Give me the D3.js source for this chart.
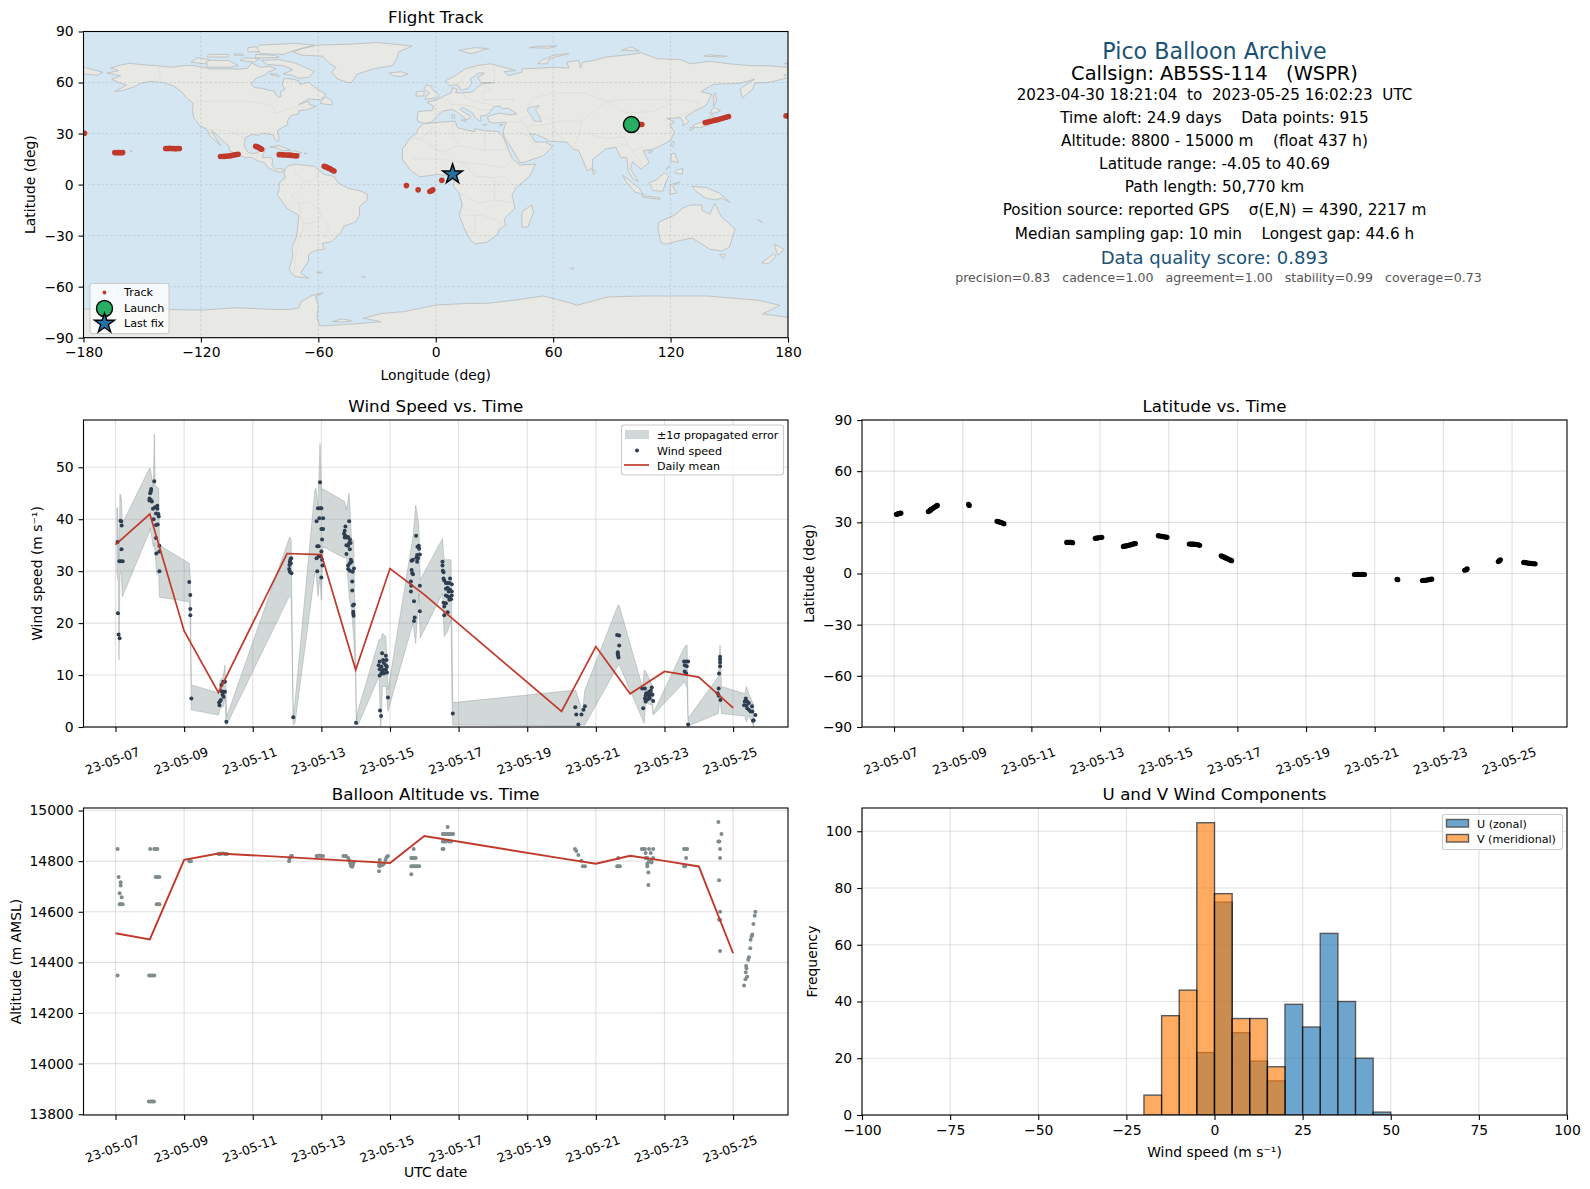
<!DOCTYPE html>
<html>
<head>
<meta charset="utf-8">
<script src="https://cdn.jsdelivr.net/npm/d3@7"></script>
<style>
  body { margin: 0; background: #fff; }
  svg { display: block; font-family: "DejaVu Sans", sans-serif; }
</style>
</head>
<body>
<svg id="chart" width="1590" height="1189"></svg>
<script>
// ---- data ----
// times are day-of-May (UTC), 7.5 = 23-05-07 12:00
const dateTicks = [7, 9, 11, 13, 15, 17, 19, 21, 23, 25];

const windTime = [
  7.06, 7.07, 7.09, 7.12, 7.11, 7.145, 7.165, 7.18, 7.175, 7.155, 7.21,
  8.13, 8.04, 8.03, 8.01, 7.99, 8.03, 8.06, 7.99, 8.09, 8.15, 8.22, 8.22, 8.18, 8.25, 8.26, 8.11, 8.18, 8.23, 8.18, 8.28, 8.19, 8.28, 8.28,
  9.15, 9.18, 9.18, 9.18, 9.21,
  10.03, 10.02, 10.05, 10.07, 10.09, 10.14, 10.19, 10.12, 10.15, 10.09, 10.14, 10.19, 10.23,
  12.1, 12.12, 12.08, 12.07, 12.06, 12.08, 12.13, 12.11, 12.18,
  12.96, 12.9, 12.96, 13.0, 12.86, 12.94, 13.05, 13.0, 13.05, 13.02, 12.88, 12.92, 13.0, 12.86, 12.92, 12.97, 13.02, 13.03, 12.88, 13.0,
  13.81, 13.7, 13.68, 13.66, 13.7, 13.73, 13.78, 13.83, 13.68, 13.81, 13.73, 13.85, 13.78, 13.83, 13.73, 13.86, 13.88, 13.83, 13.78, 13.78, 13.83, 13.91, 13.95, 13.9, 13.9, 13.95, 13.92, 13.93, 13.93, 13.94, 14.01,
  14.77, 14.88, 14.8, 14.7, 14.9, 14.82, 14.67, 14.75, 14.88, 14.91, 14.7, 14.82, 14.78, 14.88, 14.91, 14.75, 14.7, 14.82, 14.94, 14.71, 14.74,
  15.76, 15.84, 15.8, 15.85, 15.79, 15.87, 15.77, 15.82, 15.67, 15.63, 15.79, 15.63, 15.65, 15.67, 15.61, 15.62, 15.61, 15.87, 15.7, 15.87, 15.72, 15.7,
  16.53, 16.53, 16.54, 16.56, 16.56, 16.58, 16.75, 16.63, 16.68, 16.73, 16.8, 16.63, 16.68, 16.75, 16.71, 16.8, 16.63, 16.68, 16.73, 16.8, 16.78, 16.73, 16.56, 16.63, 16.58, 16.58, 16.68, 16.83,
  20.4, 20.43, 20.49, 20.58, 20.64, 20.68,
  21.62, 21.68, 21.68, 21.64, 21.64, 21.65, 21.66,
  22.35, 22.43, 22.63, 22.55, 22.6, 22.47, 22.53, 22.62, 22.45, 22.55, 22.65, 22.43, 22.5, 22.57, 22.45, 22.67, 22.38,
  23.57, 23.64, 23.69, 23.59, 23.65, 23.59, 23.63, 23.69,
  24.62, 24.62, 24.62, 24.62, 24.59, 24.58, 24.55, 24.58, 24.63,
  25.37, 25.34, 25.41, 25.32, 25.39, 25.46, 25.55, 25.41, 25.46, 25.51, 25.56, 25.65, 25.6, 25.58
];
const windSpeed = [
  35.6, 21.9, 17.8, 17.1, 31.9, 39.7, 39.6, 38.8, 34.2, 31.9, 31.9,
  47.3, 45.8, 45.4, 45, 44, 43.7, 43.4, 43.6, 42, 42.3, 42.6, 42, 41.1, 41, 40.5, 40, 38.9, 39, 36.4, 34.9, 33.4, 33.8, 30,
  27.9, 25.4, 22.7, 21.5, 5.5,
  4.2, 4.7, 5, 5.2, 6.9, 6.8, 6.8, 6.2, 5.8, 8.1, 8.7, 8.7, 1,
  32.3, 32.5, 31.8, 31.2, 30.4, 29.9, 29.6, 31.5, 1.9,
  47.1, 42.1, 42.1, 42.1, 39.6, 40.2, 40.2, 38.1, 38.1, 36.1, 34.8, 34.8, 33.8, 32.5, 32.8, 32.9, 32.2, 31.1, 30, 28.8,
  39.6, 38.6, 37.8, 37.2, 36.8, 36.5, 36.6, 36.1, 36.5, 35.4, 35, 35.4, 34.9, 34.2, 33.3, 32.2, 31.8, 31.5, 31.1, 30.4, 30.1, 29.9, 30.5, 28, 26.3, 23.6, 23.4, 22.2, 21.8, 21.4, 0.8,
  14.2, 13.7, 12.9, 12.6, 12.9, 12.3, 11.9, 11.6, 11.9, 11.6, 11.1, 11, 10.7, 11, 10.5, 10.3, 9.9, 10.3, 5.7, 3.2, 2.1,
  36.8, 34.9, 34.7, 34.3, 33.1, 33.2, 32.6, 32.5, 32.2, 32, 31.8, 30.2, 29.6, 29.4, 28, 27.2, 26.1, 27.2, 24.2, 22.3, 21.1, 20.4,
  31.8, 31.1, 30.1, 29.8, 28.6, 28.2, 28.6, 27.7, 27.7, 27.7, 27.5, 26.6, 26.8, 26.4, 26.1, 26.1, 25.3, 25.1, 25, 25.3, 24.6, 24.5, 23.9, 23.8, 23.2, 21.5, 22.1, 2.6,
  3.8, 2.4, 0.5, 2.4, 3.3, 4,
  17.7, 17.6, 15.7, 14.4, 14, 13.7, 13.4,
  7.4, 7.4, 7.6, 6.8, 7, 6.5, 6.3, 6.3, 6, 5.8, 6.2, 5.5, 5.3, 5.5, 4.9, 5, 3.6,
  12.6, 12.6, 12.6, 11.9, 11.7, 10.7, 10.3, 0.5,
  13.5, 13, 12.4, 11.7, 10.3, 7.4, 6.5, 6, 5.2,
  5.5, 4.9, 4.9, 4.2, 4.2, 4.6, 4, 3.6, 3.3, 3, 3, 2.3, 1.3, 1.2
];

const bandTime = [
  7.04, 7.06, 7.08, 7.10, 7.13, 7.17, 7.20, 7.99, 8.01, 8.10, 8.13, 8.16, 8.20, 8.26, 8.28, 9.15, 9.18, 9.21,
  10.0, 10.05, 10.14, 10.19, 10.22, 10.24, 12.06, 12.08, 12.12, 12.18, 12.23, 12.81, 12.84, 12.9, 12.96, 13.0, 13.05,
  13.68, 13.73, 13.81, 13.88, 13.94, 14.0, 14.02, 14.07, 14.68, 14.73, 14.78, 14.88, 14.94, 15.67, 15.75, 15.84, 15.88,
  16.53, 16.58, 16.68, 16.78, 16.81, 16.83, 20.41, 20.61, 20.68, 21.65, 21.68, 22.37, 22.41, 22.45, 22.64, 22.67,
  23.59, 23.66, 23.69, 24.57, 24.62, 24.66, 25.34, 25.39, 25.46, 25.6
];
const bandLow = [
  29.6, 28.9, 28, 12.9, 29.6, 29.6, 25.1, 37.6, 38.3, 34.7, 35.4, 33, 29.6, 29.3, 25, 24.1, 19.3, 3.3,
  2.3, 3.5, 3.9, 5.8, 0.4, 0.4, 25.1, 25.1, 25, 0.4, 0.7, 29.6, 30, 25.2, 28.9, 24.5, 34.7,
  32.5, 32.8, 25, 22.5, 17.4, 9.7, 0.4, 0.4, 9.7, 0, 7.8, 7.8, 3, 20, 16.1, 25.7, 17.1,
  25.7, 17.4, 18.4, 20.6, 3.3, 0.4, 0.2, 0.4, 0.4, 11.9, 12, 1.3, 0.7, 4.6, 4.2, 2.3,
  8.7, 7.4, 0.2, 2.6, 5.8, 2.6, 2.1, 1, 2.3, 0
];
const bandHigh = [
  42.2, 42.2, 36, 31.5, 44.9, 44, 39.2, 49.8, 49.8, 46.3, 56.4, 46.3, 46.3, 46, 35, 31.5, 28.9, 8.1,
  6.6, 9, 9.7, 11.9, 7.1, 2, 36.3, 36.6, 36, 2, 4.7, 45.6, 46, 42.7, 54.6, 45.8, 45.8,
  43.4, 41.8, 45, 36, 36, 11.6, 1.3, 3.3, 16.8, 16.8, 18, 17.4, 7.1, 36.6, 42.7, 38.9, 28.3,
  36.3, 32.2, 32.2, 32.2, 16.1, 4.7, 7.1, 3, 7.1, 23.5, 23.4, 7.4, 11, 10.7, 8.1, 2.6,
  15.5, 15.8, 1.7, 9.7, 15.8, 7.8, 6.4, 7.8, 6.4, 4.2
];

const meanDay = [7, 8, 9, 10, 12, 13, 14, 15, 16, 20, 21, 22, 23, 24, 25];
const meanWind = [35.1, 41, 18.5, 6.6, 33.4, 33.2, 11, 30.5, 25.5, 3, 15.5, 6.4, 10.7, 9.6, 3.7];
const meanAlt = [14515, 14491, 14805, 14830, 14816, 14808, 14800, 14793, 14899, 14811, 14790, 14821, 14801, 14779, 14436];

const altTime = [
  7.06, 7.09, 7.15, 7.15, 7.12, 7.18, 7.12, 7.15, 7.18, 7.21, 7.06,
  8.01, 8.13, 8.17, 8.22, 8.17, 8.2, 8.24, 8.28, 8.2, 8.24, 8.28, 7.98, 8.03, 8.08, 8.13, 7.97, 8.02, 8.07, 8.12,
  9.15, 9.2, 10.0, 10.05, 10.1, 10.15, 10.2, 10.25,
  12.12, 12.1, 12.06, 12.07, 12.14, 12.86, 12.9, 12.95, 13.0, 13.05,
  13.64, 13.68, 13.72, 13.78, 13.82, 13.84, 13.86, 13.88, 13.9, 13.92, 13.94, 13.86, 13.9,
  14.7, 14.68, 14.68, 14.7, 14.75, 14.78, 14.82, 14.87, 14.9, 14.94,
  15.69, 15.62, 15.66, 15.7, 15.75, 15.62, 15.66, 15.7, 15.75, 15.8, 15.85, 15.62,
  16.68, 16.54, 16.58, 16.63, 16.68, 16.73, 16.78, 16.84, 16.54, 16.58, 16.63, 16.72, 16.78, 16.53, 16.56,
  20.39, 20.43, 20.49, 20.58, 20.62, 20.68,
  21.65, 21.62, 21.66, 21.7,
  22.34, 22.38, 22.43, 22.55, 22.67, 22.45, 22.6, 22.45, 22.5, 22.55, 22.62, 22.67, 22.5, 22.62, 22.5, 22.53, 22.53,
  23.57, 23.61, 23.66, 23.63, 23.57, 23.6,
  24.57, 24.66, 24.57, 24.6, 24.62, 24.62, 24.59, 24.62, 24.59, 24.62, 24.62,
  25.32, 25.36, 25.41, 25.37, 25.39, 25.38, 25.44, 25.46, 25.5, 25.51, 25.54, 25.56, 25.59, 25.63, 25.65
];
const altitude = [
  14848, 14737, 14717, 14704, 14673, 14657, 14630, 14630, 14630, 14630, 14348,
  14848, 14848, 14848, 14848, 14737, 14737, 14737, 14737, 14630, 14630, 14630, 14348, 14348, 14348, 14348, 13850, 13850, 13850, 13850,
  14800, 14800, 14828, 14828, 14830, 14830, 14828, 14828,
  14820, 14815, 14800, 14810, 14820, 14820, 14820, 14822, 14820, 14820,
  14820, 14820, 14820, 14812, 14803, 14792, 14782, 14780, 14790, 14785, 14795, 14790, 14778,
  14805, 14785, 14760, 14780, 14785, 14785, 14790, 14805, 14815, 14820,
  14848, 14812, 14812, 14812, 14812, 14780, 14780, 14780, 14780, 14780, 14780, 14748,
  14935, 14907, 14907, 14907, 14907, 14907, 14907, 14907, 14878, 14878, 14878, 14878, 14878, 14848, 14848,
  14848, 14840, 14824, 14802, 14780, 14780,
  14812, 14780, 14780, 14780,
  14848, 14848, 14848, 14848, 14848, 14832, 14832, 14812, 14812, 14800, 14800, 14812, 14790, 14795, 14780, 14755, 14706,
  14848, 14848, 14848, 14812, 14780, 14780,
  14955, 14907, 14878, 14878, 14848, 14812, 14725, 14600, 14568, 14568, 14445,
  14309, 14333, 14343, 14361, 14377, 14386, 14410, 14420, 14456, 14489, 14503, 14510, 14552, 14584, 14600
];

const latTime = [
  7.07, 7.1, 7.12, 7.15, 7.18, 7.2,
  8.0, 8.02, 8.05, 8.07, 8.1, 8.13, 8.16, 8.19, 8.22, 8.24, 8.26,
  9.17, 9.19,
  10.0, 10.04, 10.08, 10.12, 10.16, 10.2,
  12.03, 12.07, 12.11, 12.15, 12.2,
  12.86, 12.9, 12.94, 13.0, 13.05,
  13.68, 13.72, 13.76, 13.8, 13.85, 13.9, 13.95, 14.0, 14.03,
  14.7, 14.74, 14.8, 14.86, 14.92, 14.95,
  15.6, 15.64, 15.68, 15.72, 15.76, 15.8, 15.85, 15.9,
  16.53, 16.56, 16.6, 16.64, 16.68, 16.72, 16.76, 16.8, 16.83,
  20.41, 20.45, 20.5, 20.55, 20.6, 20.65, 20.7,
  21.65, 21.67,
  22.39, 22.43, 22.48, 22.52, 22.57, 22.61, 22.66,
  23.62, 23.66, 23.69,
  24.6, 24.63, 24.66,
  25.34, 25.38, 25.42, 25.46, 25.5, 25.54, 25.58, 25.62, 25.67
];
const latitude = [
  34.7, 34.9, 35, 35.2, 35.3, 35.4,
  36.3, 36.6, 37, 37.4, 37.8, 38.2, 38.6, 39, 39.4, 39.7, 39.9,
  40.6, 39.9,
  30.6, 30.4, 30.2, 29.9, 29.6, 29.2,
  18.2, 18.3, 18.2, 18.2, 18.1,
  20.6, 20.7, 20.9, 21.1, 21.2,
  15.9, 16, 16.2, 16.4, 16.6, 16.9, 17.2, 17.5, 17.6,
  22.2, 22, 21.8, 21.6, 21.3, 21.2,
  17.3, 17.3, 17.2, 17.2, 17.1, 17.1, 16.9, 16.5,
  10.4, 10, 9.7, 9.3, 9, 8.6, 8.2, 7.8, 7.5,
  -0.6, -0.6, -0.5, -0.6, -0.6, -0.5, -0.6,
  -3.4, -3.6,
  -4.1, -4.05, -4, -3.8, -3.6, -3.4, -3.3,
  1.9, 2.2, 2.7,
  7, 7.5, 8,
  6.5, 6.4, 6.3, 6.1, 6, 5.9, 5.8, 5.8, 5.7
];

const trackLon = [
  -180, -179.5,
  -164, -163.2, -162.4, -161.6, -160.8, -160,
  -138, -137, -136, -135, -134, -133, -132, -131,
  -110, -109, -108, -107, -106, -105, -104, -103, -102, -101,
  -92, -91.2, -90.4, -89.6, -89,
  -80, -79, -78, -77, -76, -75, -74, -73, -72, -71,
  -57, -56.2, -55.4, -54.6, -53.8, -53, -52,
  -15, -9, -3, -2.2, -1.5, 3.1,
  105.3, 104.5,
  137.7, 139, 140.3, 141.6, 143, 144.3, 145.6, 147, 148.3, 149.6,
  179, 180
];
const trackLat = [
  30.2, 30.2,
  18.8, 18.7, 18.8, 18.8, 18.7, 18.8,
  21.2, 21.2, 21.3, 21.2, 21.2, 21.1, 21.2, 21.2,
  16.5, 16.5, 16.6, 16.7, 16.8, 17, 17.2, 17.4, 17.6, 17.8,
  22.5, 22.2, 21.8, 21.2, 20.8,
  17.6, 17.6, 17.5, 17.4, 17.4, 17.3, 17.2, 17.1, 17, 16.9,
  10.8, 10.4, 10, 9.6, 9.1, 8.6, 8,
  -0.6, -3.1, -4.1, -3.6, -3.1, 2.5,
  35.3, 35.3,
  36.5, 36.8, 37.1, 37.5, 37.9, 38.3, 38.7, 39.1, 39.6, 40,
  40.4, 40.4
];
const launchPoint = [100, 35.3];
const lastFixPoint = [8.6, 6.1];

const histEdges = d3.range(-100, 105, 5);
const histU = { "-5": 22, "0": 75, "5": 29, "10": 19, "15": 12, "20": 39, "25": 31, "30": 64, "35": 40, "40": 20, "45": 1 };
const histV = { "-20": 7, "-15": 35, "-10": 44, "-5": 103, "0": 78, "5": 34, "10": 34, "15": 17 };

// land outlines, [lon, lat]
const land = [
  // North America
  [[-168,65.5],[-164,66.5],[-162,67],[-166,68.5],[-161,70.3],[-156.5,71.3],[-150,70.5],[-141,69.7],[-135,69],[-128,70],[-124,70],[-115,68],[-108,68],[-100,68],[-96,68.5],[-94,71.5],[-90,69],[-85,69.5],[-81.5,68],[-86,66],[-87,64.5],[-92,62.5],[-94.5,59],[-92.5,57],[-88,56.5],[-85,55.3],[-82.3,55],[-82,52.9],[-80,51.3],[-79,52],[-79.5,54.5],[-77,56],[-78.5,58.5],[-77.5,62.5],[-73,62],[-70,61],[-69.5,58.8],[-65,60.2],[-61,56.5],[-56,53],[-59,50],[-65,50.3],[-70,47],[-65,49],[-64.5,47],[-61,46],[-66,44],[-70,43.5],[-70,41.7],[-74,40.5],[-76,37],[-75.5,35.2],[-78,33.8],[-81,31.8],[-80,27],[-80.5,25.2],[-82,26.5],[-83,29],[-85,29.7],[-89,30.2],[-90,29],[-94,29.5],[-97.3,27.5],[-97.8,22.5],[-96,19],[-94,18.2],[-91,18.7],[-90.5,21],[-87,21.5],[-88,18],[-88.8,15.9],[-84,15.8],[-83.3,14.9],[-83.7,11],[-82,9],[-79.5,9.5],[-77.3,8.6],[-78,7.5],[-80,7.3],[-83,8.3],[-85.7,10],[-87.5,13],[-91,14],[-94,16],[-97,15.8],[-101,17.5],[-105.5,20],[-105.5,22.5],[-109,26],[-112.5,30],[-114.7,31.7],[-112.5,27.5],[-110,23],[-112,25],[-115,28],[-117,32.5],[-120.5,34.5],[-123.5,39],[-124.3,43],[-124,48],[-127,50.5],[-130,54.5],[-134,58],[-139.5,60],[-146,60.7],[-151,59.5],[-154,57.5],[-160,55.3],[-164,54.7],[-158,58.5],[-162,60],[-165.5,62],[-161,64]],
  // Arctic Canada
  [[-80,73.5],[-72,71.5],[-68,69.5],[-62,66.5],[-65,63],[-70,62.5],[-74,64.5],[-78,65],[-73,67.5],[-78,70],[-86,70.5],[-89,73]],
  [[-117,69],[-105,69],[-101,70],[-106,73],[-117,73]],
  [[-125,72],[-118,71],[-116,73.5],[-122,74.5]],
  [[-90,77],[-78,76.5],[-72,79],[-62,82],[-72,83],[-90,82],[-92,80]],
  [[-92,74.5],[-80,74.7],[-82,76],[-92,76.5]],
  [[-117,75],[-106,75],[-106,76.5],[-116,76.5]],
  [[-100,73],[-93,72],[-90,74],[-98,74.5]],
  [[-96,78],[-90,78.2],[-92,81],[-96,80.5]],
  [[-103,76],[-98,76],[-99,77],[-103,76.8]],
  [[-85,65],[-80,63.5],[-81,65]],
  [[-59,47.7],[-53,46.8],[-53,49],[-56,51.5],[-58,50]],
  // Caribbean, Hawaii
  [[-85,22],[-80,23],[-74,20.2],[-78,19.9],[-82,22]],
  [[-74.5,18.5],[-72,19.9],[-68.5,18.6],[-71,18]],
  [[-78.3,18.3],[-76.3,18.2],[-77,17.8]],
  [[-67.2,18.4],[-65.7,18.4],[-66.5,18]],
  [[-155.8,19.2],[-155,19.6],[-155.8,20.2]],
  // Greenland, Iceland
  [[-73,78],[-68,76],[-58,75.5],[-54,71],[-51,69],[-53,66],[-50,62],[-45,60],[-43,60],[-40,65],[-32,68],[-22,70],[-20,74],[-19,78],[-12,81.5],[-30,83.5],[-45,82.5],[-60,82],[-68,80]],
  [[-24,65.5],[-18,66.3],[-14,65],[-18,63.5],[-22,64]],
  // South America
  [[-77.3,8.6],[-75.5,11],[-72,12],[-68,11.5],[-62,10.7],[-57,6],[-52,4.8],[-50,1],[-44,-2.5],[-39,-3.5],[-35,-5.5],[-35,-9],[-39,-13],[-39,-18],[-41,-22],[-47,-24.5],[-48.5,-28],[-53,-33.5],[-58,-34.5],[-57,-38],[-62,-39],[-65,-41],[-65,-45],[-68,-50],[-69,-52],[-65,-55],[-72,-54],[-75,-50],[-73,-42],[-73.5,-37],[-71,-30],[-70,-18],[-76,-14],[-81,-6],[-80,-2.5],[-80,1],[-77,4],[-77.5,7]],
  [[-61,-51.5],[-58,-51.5],[-59,-52.3]],
  [[-37.8,-54],[-36,-54.3],[-36.5,-54.8]],
  // Africa
  [[-6,35.8],[3,36.8],[10,37.3],[11,33.5],[15,32.3],[20,31],[20,32.8],[25,31.7],[32,31.2],[34.5,28],[37,21],[39,15.5],[43,11.5],[51,12],[48,5],[41,-2],[39,-6],[40.5,-14],[35,-20],[35.5,-24],[32.5,-26.5],[31,-30],[26,-34],[20,-34.8],[18,-33],[15,-27],[12,-18],[13.5,-12],[12,-5],[9,-1],[9.5,3.5],[5,5.5],[1,6],[-4,5.2],[-8,4.5],[-13,8.5],[-17,14.7],[-17,21],[-13,27.5],[-10,30],[-9,33]],
  [[49,-12],[50,-16],[47,-25],[44,-25],[44,-16]],
  // Eurasia
  [[-9,37],[-9.5,39],[-9,43],[-2,43.5],[-1,46],[-4.5,48.5],[1,50],[4,52],[8,54],[8.5,57],[11,56],[10,54],[14,54],[19,54.5],[21,57],[24,59.3],[30,60],[23,60],[21.5,63],[25,65.5],[22,65.7],[17.5,62],[18.5,60],[16.5,56.5],[13,55.5],[11,59],[7,58],[5,61],[10,64],[15,68],[21,70],[28,71],[33,69.5],[41,67],[35,66.5],[37,64],[44,66],[44,68],[54,68.5],[60,69],[68,68.5],[67,72],[73,73],[74,68.5],[75,72],[81,73],[87,75],[100,76.5],[105,77.5],[113,74],[125,73.5],[130,71],[140,72.5],[150,71],[160,70],[170,69.8],[180,69],[180,65],[178,64.5],[179,62.5],[170,60],[163,59.7],[162,56],[156.7,51],[155.5,56],[158,58.3],[163,62],[155,59.5],[142,59],[135.5,54.7],[141,53],[138,46.5],[132,43],[127.5,39.7],[129.3,37],[126.5,34.5],[126.3,37],[125,39.5],[121.5,39],[118,39],[122,37],[119.5,35],[122,31],[120,26],[114,22.3],[110,20.5],[106,20],[109,13],[105,9],[100.5,13.5],[99.5,9],[103.5,2],[101,3],[98.3,8],[97.5,16],[94.5,16],[92,22],[87,21],[80.3,15],[80,10],[77.5,8],[73,20],[70,21],[67,25],[57,25.5],[56.5,27],[51,29.5],[48,30],[51,25],[56,25],[59.7,22.5],[55,17],[45,13],[43,13],[39,21],[35,28],[34.5,31.5],[36,36.7],[30,36.2],[27,37],[26.5,40],[29,41],[33,42],[38,41],[41.5,41.5],[37,45],[34,44.5],[33,46],[30,46],[28,43],[26,40.7],[23,40.5],[23,37],[20,39.5],[19,42],[13.5,45.5],[12.5,44],[18,40],[16,38],[11,42.5],[8.5,44.2],[3.5,43.2],[0,39.5],[-2,36.8],[-5.5,36]],
  [[-180,65],[-180,69],[-175,67.5],[-170,66],[-173,64.3]],
  // Europe and Arctic islands
  [[-5.5,50],[1.5,51.3],[1.5,53],[-2,56],[-2,57.7],[-5,58.6],[-6,56],[-3,54],[-5,52]],
  [[-10,52],[-6,52.2],[-6,55],[-10,54.5]],
  [[12,79],[20,80.5],[27,80],[18,77]],
  [[52,71],[57,71],[58,74],[68,77],[60,76],[54,73]],
  [[95,79],[104,78.5],[100,81]],
  [[48,80.5],[58,80.2],[62,81.5],[52,81.3]],
  [[137,75.5],[146,75],[149,75.5],[139,76.3]],
  [[178,71],[180,71],[180,71.5],[178.5,71.5]],
  [[13,38],[15.5,38],[15,36.8]],
  [[8.3,39],[9.7,39.2],[9.5,41],[8.3,41]],
  [[24,35.2],[26,35.2],[25,35]],
  [[32.5,35],[34.5,35.5],[33.5,34.7]],
  // East and South East Asia
  [[131,34],[135,33.5],[140,35],[142,39.5],[141,41.3],[139.5,38.5],[136.5,37],[132.5,35.5]],
  [[140,42],[143,42],[145.5,43.5],[142,45.5]],
  [[130,31.5],[132,33],[130,33.7]],
  [[142,46],[143.5,49],[143,54],[142,53]],
  [[120,23],[121,22],[122,25],[121,25.3]],
  [[109,18.3],[111,19.7],[109,20]],
  [[120,14],[124,13],[122,18.5],[120.5,18]],
  [[122,7],[126,6],[126.3,9.5],[123,8.5]],
  [[118,9],[119.5,11],[117.5,8.5]],
  [[95.5,5.5],[104,-2],[106,-5.8],[102,-4.5],[97,2]],
  [[105.5,-6.5],[114.5,-7.7],[114.5,-8.7],[106,-7.5]],
  [[109,1],[113,3],[117,7],[119,5],[117.5,1],[116,-4],[111,-3.5]],
  [[119.5,-5.5],[120,0],[125,1.5],[121,-1],[123,-5]],
  [[131,-1],[138,-1.7],[145,-5],[150.5,-10.5],[146,-8],[143,-9],[138,-8],[133,-4]],
  [[80,9.5],[82,7.5],[80.5,6]],
  // Australia and New Zealand
  [[114,-22],[122,-18],[126,-14],[130,-12],[136,-12],[136,-15],[140,-17.5],[142.5,-11],[146,-19],[153,-26],[150,-37],[146,-39],[140,-38],[136,-35],[131,-31.5],[124,-33],[118,-35],[115,-34],[113.5,-26]],
  [[145,-41],[148,-41],[147,-43.5]],
  [[173,-35],[178,-38],[175,-41.5],[174,-39]],
  [[172.5,-40.7],[174,-42],[170,-46.5],[166.5,-46]],
  [[165,-21],[167,-22.3],[164.5,-20.5]],
  [[69,-49],[70.5,-49],[70,-50]],
  // Antarctica
  [[-180,-78],[-180,-73],[-160,-75],[-137,-73.5],[-119,-73.7],[-102,-72.4],[-84.5,-73.3],[-75,-73.5],[-70,-72.5],[-69,-69],[-64,-65.5],[-57.4,-63.5],[-61.5,-66],[-60,-71],[-60.7,-78.6],[-59,-83.1],[-43,-82],[-28,-80.6],[-37,-78.6],[-28,-75.8],[-16.4,-74.7],[0,-70.8],[17,-69.8],[26,-69.8],[40,-68],[55,-65.5],[69,-69.6],[72,-71],[88,-66],[106,-65.5],[139,-65.5],[165,-68],[176,-71],[167,-76],[180,-78],[180,-90],[-180,-90]],
  [[-53,-80.5],[-48,-79],[-43,-80],[-46,-80.8]]
];
const inlandSeas = [
  [[47,45],[53,46.5],[51,44],[53,40],[54,37],[50,37.5],[49,40.5],[47,43]]
];
const borders = [
  [[-141,69.7],[-141,60]],[[-123,49],[-95,49],[-89,48],[-83,46],[-82,42],[-76,44],[-70,46],[-67,45]],
  [[-117,32.5],[-106,31.7],[-101,29.5],[-97.3,26]],[[-92,14.5],[-91,17.5],[-89,18]],
  [[-72,12],[-72,7],[-67,2],[-70,-4],[-74,-7],[-70,-11],[-69,-18]],[[-60,8],[-60,5],[-64,2],[-67,2]],
  [[-52,4],[-55,2],[-60,1]],[[-70,-11],[-65,-10],[-60,-14],[-58,-20],[-54,-25],[-57,-30],[-53,-33]],
  [[-70,-18],[-67,-23],[-70,-33],[-72,-45],[-72,-52]],[[-58,-20],[-62,-22],[-67,-23]],
  [[-8,27],[-13,27.5]],[[-8,27],[3,19],[12,23],[25,20],[25,31.7]],[[-12,15],[3,15],[14,13],[24,12],[34,10],[40,15]],
  [[25,20],[37,21]],[[9,37],[8,30],[12,23]],[[-8,27],[-2,32],[-2,35]],[[9,4],[14,13]],[[14,13],[20,5],[30,4],[35,5],[41,-2]],
  [[12,-5],[22,-11],[30,-9],[40,-11]],[[12,-18],[24,-18],[33,-22],[32,-26]],[[20,-18],[20,-28],[16,-28]],[[30,4],[30,-9]],
  [[-2,43.5],[3,42.5]],[[2.5,51],[8,49],[7.5,47],[13,47],[19,46],[23,44],[28,44]],[[14,54],[15,51],[19,49.5],[24,48],[30,46]],
  [[24,59],[28,56],[24,54],[24,50],[40,50],[38,47]],[[30,60],[30,69.5]],[[12,60],[18,68],[26,69]],
  [[49,41],[44,39],[44,37],[36,36.7]],[[44,37],[46,34],[48,30]],[[39,32],[47,29],[52,22],[55,20]],[[46,34],[60,36],[61,31],[57,25.5]],
  [[53,41],[60,37],[66,37.5],[74,37],[80,42],[87,49],[98,50],[108,50],[117,50],[127,50],[135,48],[131,43]],
  [[47,45],[50,51],[61,54],[76,54],[87,49]],[[61,31],[66,25.5]],[[74,37],[74,32],[70,21]],[[78,32],[80,29],[88,27],[96,28],[98,24],[92,22]],
  [[98,24],[100,20],[106,22]],[[100,20],[104,15],[105,11]],[[98,16],[99,11]],[[124,40],[130,43]],[[87,49],[98,42],[111,43],[120,47],[117,50]]
];

const headerText = [
  "Pico Balloon Archive",
  "Callsign: AB5SS-114   (WSPR)",
  "2023-04-30 18:21:04  to  2023-05-25 16:02:23  UTC",
  "Time aloft: 24.9 days    Data points: 915",
  "Altitude: 8800 - 15000 m    (float 437 h)",
  "Latitude range: -4.05 to 40.69",
  "Path length: 50,770 km",
  "Position source: reported GPS    σ(E,N) = 4390, 2217 m",
  "Median sampling gap: 10 min    Longest gap: 44.6 h",
  "Data quality score: 0.893",
  "precision=0.83   cadence=1.00   agreement=1.00   stability=0.99   coverage=0.73"
];

// ---- layout ----
const RED = '#c0392b', SLATE = '#2c3e50', GREY = '#7f8c8d', NAVY = '#1a5276';
const colL = [83.5, 788], colR = [862, 1567];
const rowTop = [31.5, 337.7], rowMid = [420, 727], rowBot = [808, 1115];
const dayDomain = [6.067, 26.6];
const dayToDate = d => new Date(Date.UTC(2023, 3, 30) + d * 864e5);

const svg = d3.select('#chart');
let clipCount = 0;

function makePanel({ xr, yr, x, y, xTicks, yTicks, xFormat, yFormat, title, titleGap = 8, xLabel, yLabel, yLabelX, dateLabels, gridDash, bg }) {
  const g = svg.append('g');
  const id = `clip-${clipCount++}`;
  svg.append('defs').append('clipPath').attr('id', id)
    .append('rect').attr('x', xr[0]).attr('y', yr[0]).attr('width', xr[1] - xr[0]).attr('height', yr[1] - yr[0]);

  g.append('rect').attr('x', xr[0]).attr('y', yr[0]).attr('width', xr[1] - xr[0]).attr('height', yr[1] - yr[0])
    .attr('fill', bg || '#fff');

  const marks = g.append('g').attr('clip-path', `url(#${id})`);

  const gridG = g.append('g').attr('class', 'grid');
  const drawGrid = () => {
    gridG.selectAll('.gx').data(xTicks).join('line').attr('class', 'gx')
      .attr('x1', d => x(d)).attr('x2', d => x(d)).attr('y1', yr[0]).attr('y2', yr[1]);
    gridG.selectAll('.gy').data(yTicks).join('line').attr('class', 'gy')
      .attr('x1', xr[0]).attr('x2', xr[1]).attr('y1', d => y(d)).attr('y2', d => y(d));
    gridG.selectAll('line')
      .attr('stroke', gridDash ? '#8a9296' : '#b0b0b0')
      .attr('stroke-opacity', gridDash ? 0.3 : 0.38)
      .attr('stroke-dasharray', gridDash || null)
      .attr('stroke-width', gridDash ? 0.8 : 1.1);
  };
  const front = g.append('g').attr('clip-path', `url(#${id})`);

  const xAxis = d3.axisBottom(x).tickValues(xTicks).tickSize(4.9).tickPadding(4.9).tickFormat(xFormat);
  const yAxis = d3.axisLeft(y).tickValues(yTicks).tickSize(4.9).tickPadding(4.9).tickFormat(yFormat);

  const drawAxes = () => {
    const gx = g.append('g').attr('transform', `translate(0,${yr[1]})`).call(xAxis);
    const gy = g.append('g').attr('transform', `translate(${xr[0]},0)`).call(yAxis);
    [gx, gy].forEach(a => {
      a.selectAll('.domain').remove();
      a.selectAll('text').attr('font-size', 13.9).attr('font-family', '"DejaVu Sans"').attr('fill', '#000');
      a.selectAll('line').attr('stroke', '#000').attr('stroke-width', 1.1);
    });
    if (dateLabels) {
      gx.selectAll('text')
        .attr('font-size', 12.5)
        .attr('text-anchor', 'middle')
        .attr('dy', 0).attr('y', 0)
        .attr('transform', 'translate(-2,38) rotate(-20)');
    }
    g.append('rect').attr('x', xr[0]).attr('y', yr[0]).attr('width', xr[1] - xr[0]).attr('height', yr[1] - yr[0])
      .attr('fill', 'none').attr('stroke', '#000').attr('stroke-width', 1.1);
    g.append('text').attr('x', (xr[0] + xr[1]) / 2).attr('y', yr[0] - titleGap).attr('text-anchor', 'middle')
      .attr('font-size', 16.7).text(title);
    if (xLabel) {
      g.append('text').attr('x', (xr[0] + xr[1]) / 2).attr('y', yr[1] + (dateLabels ? 62 : 42)).attr('text-anchor', 'middle')
        .attr('font-size', 13.9).text(xLabel);
    }
    g.append('text').attr('transform', `translate(${yLabelX},${(yr[0] + yr[1]) / 2}) rotate(-90)`)
      .attr('text-anchor', 'middle').attr('font-size', 13.9).text(yLabel);
  };
  return { g, marks, front, drawGrid, drawAxes };
}

function legendBox(panel, x, y, w, h) {
  panel.g.append('rect').attr('x', x).attr('y', y).attr('width', w).attr('height', h).attr('rx', 2.5)
    .attr('fill', '#fff').attr('fill-opacity', 0.8).attr('stroke', '#ccc').attr('stroke-width', 1.1);
}
function legendText(panel, x, y, s) {
  panel.g.append('text').attr('x', x).attr('y', y).attr('font-size', 11.1).attr('fill', '#000').text(s);
}

const pickXY = (xs, ys) => xs.map((v, i) => [v, ys[i]]);
const dateScale = xr => d3.scaleUtc().domain(dayDomain.map(dayToDate)).range(xr);
const dateFmt = d3.utcFormat('%y-%m-%d');
const dateTickValues = dateTicks.map(dayToDate);

// ---- map ----
{
  const x = d3.scaleLinear().domain([-180, 180]).range(colL);
  const y = d3.scaleLinear().domain([-90, 90]).range([rowTop[1], rowTop[0]]);
  const p = makePanel({
    xr: colL, yr: rowTop, x, y, xTicks: d3.range(-180, 181, 60), yTicks: d3.range(-90, 91, 30),
    xFormat: d3.format('d'), yFormat: d3.format('d'), title: 'Flight Track', titleGap: 9, xLabel: 'Longitude (deg)',
    yLabel: 'Latitude (deg)', yLabelX: 35, gridDash: '2.5,2', bg: '#d4e6f1'
  });
  const line = d3.line().x(d => x(d[0])).y(d => y(d[1]));
  p.marks.append('g').selectAll('path').data(land).join('path')
    .attr('d', d => line(d) + 'Z')
    .attr('fill', '#e8e8e4').attr('stroke', '#bcbfc0').attr('stroke-width', 0.9).attr('stroke-linejoin', 'round');
  p.marks.append('g').selectAll('path').data(inlandSeas).join('path')
    .attr('d', d => line(d) + 'Z')
    .attr('fill', '#d4e6f1').attr('stroke', '#bcbfc0').attr('stroke-width', 0.8);
  p.marks.append('g').selectAll('path').data(borders).join('path')
    .attr('d', line).attr('fill', 'none').attr('stroke', '#dbdcd9').attr('stroke-width', 0.7);
  p.drawGrid();
  p.front.selectAll('circle.track').data(pickXY(trackLon, trackLat)).join('circle').attr('class', 'track')
    .attr('cx', d => x(d[0])).attr('cy', d => y(d[1])).attr('r', 2.8).attr('fill', RED);
  p.front.append('circle').attr('cx', x(launchPoint[0])).attr('cy', y(launchPoint[1])).attr('r', 8)
    .attr('fill', '#27ae60').attr('stroke', '#000').attr('stroke-width', 1.4);
  const star = d3.symbol().type(d3.symbolStar).size(124);
  p.front.append('path').attr('d', star()).attr('transform', `translate(${x(lastFixPoint[0])},${y(lastFixPoint[1])})`)
    .attr('fill', '#2471a3').attr('stroke', '#000').attr('stroke-width', 1.4);
  p.drawAxes();

  legendBox(p, 90, 283.5, 79, 50);
  p.g.append('circle').attr('cx', 104.5).attr('cy', 292.5).attr('r', 1.9).attr('fill', RED);
  p.g.append('circle').attr('cx', 104.5).attr('cy', 308.5).attr('r', 8)
    .attr('fill', '#27ae60').attr('stroke', '#000').attr('stroke-width', 1.4);
  p.g.append('path').attr('d', star()).attr('transform', 'translate(104.5,323.5)')
    .attr('fill', '#2471a3').attr('stroke', '#000').attr('stroke-width', 1.4);
  legendText(p, 124, 296, 'Track');
  legendText(p, 124, 312, 'Launch');
  legendText(p, 124, 327, 'Last fix');
}

// ---- header block ----
{
  const headerX = [1214.5, 1214.5, 1214.5, 1214.5, 1214.5, 1214.5, 1214.5, 1214.5, 1214.5, 1214.5, 1218.5];
  const headerY = [59, 79.5, 100, 123, 146, 169, 192, 215, 238.5, 264, 282];
  const headerSize = [22.2, 19.4, 15.15, 15.3, 15.3, 15.3, 15.3, 15.3, 15.3, 18, 12.55];
  const headerFill = [NAVY, '#000', '#000', '#000', '#000', '#000', '#000', '#000', '#000', NAVY, '#555'];
  svg.append('g').selectAll('text').data(headerText).join('text')
    .attr('x', (d, i) => headerX[i]).attr('y', (d, i) => headerY[i]).attr('text-anchor', 'middle')
    .attr('font-size', (d, i) => headerSize[i]).attr('fill', (d, i) => headerFill[i])
    .style('white-space', 'pre').text(d => d);
}

// ---- wind speed ----
{
  const x = dateScale(colL);
  const y = d3.scaleLinear().domain([0, 59.1]).range([rowMid[1], rowMid[0]]);
  const p = makePanel({
    xr: colL, yr: rowMid, x, y, xTicks: dateTickValues, yTicks: d3.range(0, 51, 10),
    xFormat: dateFmt, yFormat: d3.format('d'), title: 'Wind Speed vs. Time', yLabel: 'Wind speed (m s⁻¹)',
    yLabelX: 42, dateLabels: true
  });
  p.drawGrid();
  const area = d3.area().x((d, i) => x(dayToDate(bandTime[i]))).y0((d, i) => y(bandLow[i])).y1((d, i) => y(bandHigh[i]));
  p.front.append('path').attr('d', area(bandTime)).attr('fill', GREY).attr('fill-opacity', 0.35)
    .attr('stroke', GREY).attr('stroke-opacity', 0.35).attr('stroke-width', 1);
  p.front.selectAll('circle').data(pickXY(windTime, windSpeed)).join('circle')
    .attr('cx', d => x(dayToDate(d[0]))).attr('cy', d => y(d[1])).attr('r', 2).attr('fill', SLATE);
  const meanLine = d3.line().x((d, i) => x(dayToDate(meanDay[i]))).y(d => y(d));
  p.front.append('path').attr('d', meanLine(meanWind)).attr('fill', 'none').attr('stroke', RED).attr('stroke-width', 1.7);
  p.drawAxes();

  legendBox(p, 621.5, 425, 162, 50);
  p.g.append('rect').attr('x', 625).attr('y', 430).attr('width', 24).attr('height', 9).attr('fill', GREY).attr('fill-opacity', 0.35);
  p.g.append('circle').attr('cx', 637).attr('cy', 450.5).attr('r', 2).attr('fill', SLATE);
  p.g.append('line').attr('x1', 624).attr('x2', 649).attr('y1', 465).attr('y2', 465).attr('stroke', RED).attr('stroke-width', 1.7);
  legendText(p, 657, 439, '±1σ propagated error');
  legendText(p, 657, 454.5, 'Wind speed');
  legendText(p, 657, 470, 'Daily mean');
}

// ---- latitude ----
{
  const x = dateScale(colR);
  const y = d3.scaleLinear().domain([-90, 90]).range([rowMid[1], rowMid[0]]);
  const p = makePanel({
    xr: colR, yr: rowMid, x, y, xTicks: dateTickValues, yTicks: d3.range(-90, 91, 30),
    xFormat: dateFmt, yFormat: d3.format('d'), title: 'Latitude vs. Time', yLabel: 'Latitude (deg)',
    yLabelX: 814, dateLabels: true
  });
  p.drawGrid();
  p.front.selectAll('circle').data(pickXY(latTime, latitude)).join('circle')
    .attr('cx', d => x(dayToDate(d[0]))).attr('cy', d => y(d[1])).attr('r', 2.6).attr('fill', '#000');
  p.drawAxes();
}

// ---- altitude ----
{
  const x = dateScale(colL);
  const y = d3.scaleLinear().domain([13797, 15010]).range([rowBot[1], rowBot[0]]);
  const p = makePanel({
    xr: colL, yr: rowBot, x, y, xTicks: dateTickValues, yTicks: d3.range(13800, 15001, 200),
    xFormat: dateFmt, yFormat: d3.format('d'), title: 'Balloon Altitude vs. Time', xLabel: 'UTC date',
    yLabel: 'Altitude (m AMSL)', yLabelX: 21, dateLabels: true
  });
  p.drawGrid();
  p.front.selectAll('circle').data(pickXY(altTime, altitude)).join('circle')
    .attr('cx', d => x(dayToDate(d[0]))).attr('cy', d => y(d[1])).attr('r', 2).attr('fill', GREY);
  const meanLine = d3.line().x((d, i) => x(dayToDate(meanDay[i]))).y(d => y(d));
  p.front.append('path').attr('d', meanLine(meanAlt)).attr('fill', 'none').attr('stroke', RED).attr('stroke-width', 1.9);
  p.drawAxes();
}

// ---- histogram ----
{
  const x = d3.scaleLinear().domain([-100, 100]).range(colR);
  const y = d3.scaleLinear().domain([0, 108.2]).range([rowBot[1], rowBot[0]]);
  const p = makePanel({
    xr: colR, yr: rowBot, x, y, xTicks: d3.range(-100, 101, 25), yTicks: d3.range(0, 101, 20),
    xFormat: d => d3.format('d')(d).replace('-', '−'), yFormat: d3.format('d'), title: 'U and V Wind Components',
    xLabel: 'Wind speed (m s⁻¹)', yLabel: 'Frequency', yLabelX: 817
  });
  p.drawGrid();
  const bars = (counts, fill) => {
    const bins = histEdges.slice(0, -1).filter(e => counts[e]);
    p.front.append('g').selectAll('rect').data(bins).join('rect')
      .attr('x', d => x(d)).attr('width', d => x(d + 5) - x(d))
      .attr('y', d => y(counts[d])).attr('height', d => y(0) - y(counts[d]))
      .attr('fill', fill).attr('stroke', '#000').attr('stroke-width', 1.4)
      .attr('opacity', 0.65);
  };
  bars(histU, '#1f77b4');
  bars(histV, '#ff7f0e');
  p.drawAxes();

  legendBox(p, 1442.5, 814.5, 120, 35);
  p.g.append('rect').attr('x', 1446.5).attr('y', 819.5).attr('width', 22).attr('height', 7.5)
    .attr('fill', '#1f77b4').attr('stroke', '#000').attr('stroke-width', 1.4).attr('opacity', 0.65);
  p.g.append('rect').attr('x', 1446.5).attr('y', 834.5).attr('width', 22).attr('height', 7.5)
    .attr('fill', '#ff7f0e').attr('stroke', '#000').attr('stroke-width', 1.4).attr('opacity', 0.65);
  legendText(p, 1477, 828, 'U (zonal)');
  legendText(p, 1477, 843, 'V (meridional)');
}
</script>
</body>
</html>
